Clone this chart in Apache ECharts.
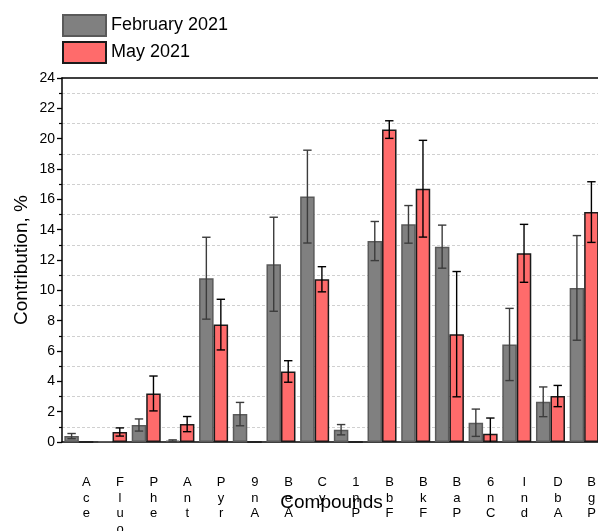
<!DOCTYPE html>
<html>
<head>
<meta charset="utf-8">
<script src="https://cdn.jsdelivr.net/npm/echarts@6/dist/echarts.min.js"></script>
<style>
html,body{margin:0;padding:0;background:#fff;}
#chart{width:598px;height:531px;}
</style>
</head>
<body>
<div id="chart"></div>
<script>
var categories = ['Ace','Fluo','Phe','Ant','Pyr','9nA','BeA','Cy','1nP','BbF','BkF','BaP','6nC','Ind','DbA','BgP'];
var febValues = [0.39, 0.03, 1.12, 0.09, 10.8, 1.84, 11.72, 16.18, 0.81, 13.25, 14.35, 12.88, 1.27, 6.43, 2.65, 10.16];
var febErrors = [0.17, 0, 0.4, 0.05, 2.7, 0.77, 3.1, 3.06, 0.34, 1.29, 1.24, 1.42, 0.9, 2.38, 0.98, 3.45];
var mayValues = [0, 0.66, 3.2, 1.18, 7.74, 0, 4.65, 10.73, 0, 20.6, 16.7, 7.11, 0.55, 12.44, 3.03, 15.16];
var mayErrors = [0, 0.27, 1.15, 0.5, 1.67, 0, 0.71, 0.83, 0, 0.58, 3.19, 4.13, 1.03, 1.91, 0.7, 2.0];
var yTicks = {min: 0, max: 24, interval: 2};

var FONT = "'Liberation Sans', Arial, sans-serif";
var BAR_W = 14.5;

function errData(vals, errs) {
  return vals.map(function (v, i) { return [i, v, errs[i]]; });
}

function makeErrorRender(side, color) {
  return function (params, api) {
    var idx = api.value(0), val = api.value(1), err = api.value(2);
    if (!err) return null;
    var hi = val + err, lo = Math.max(0, val - err);
    var pHi = api.coord([idx, hi]);
    var pLo = api.coord([idx, lo]);
    var x = pHi[0] + side * BAR_W / 2;
    var cap = 4.2;
    var children = [
      {type: 'line', shape: {x1: x, y1: pHi[1], x2: x, y2: pLo[1]}, style: {stroke: color, lineWidth: 1.4}},
      {type: 'line', shape: {x1: x - cap, y1: pHi[1], x2: x + cap, y2: pHi[1]}, style: {stroke: color, lineWidth: 1.4}}
    ];
    if (val - err > 0) {
      children.push({type: 'line', shape: {x1: x - cap, y1: pLo[1], x2: x + cap, y2: pLo[1]}, style: {stroke: color, lineWidth: 1.4}});
    }
    return {type: 'group', children: children};
  };
}

var chart = echarts.init(document.getElementById('chart'), null, {renderer: 'canvas'});
chart.setOption({
  animation: false,
  textStyle: {fontFamily: FONT, color: '#000'},
  legend: {
    orient: 'vertical',
    left: 62,
    top: 14,
    padding: 0,
    itemWidth: 43,
    itemHeight: 21,
    itemGap: 4,
    icon: 'rect',
    data: ['February 2021', 'May 2021'],
    textStyle: {fontFamily: FONT, fontSize: 18, color: '#000'}
  },
  grid: {left: 62, top: 78, width: 539, bottom: 89, containLabel: false, outerBoundsMode: 'none'},
  xAxis: [{
    type: 'category',
    data: categories,
    boundaryGap: true,
    name: 'Compounds',
    nameLocation: 'middle',
    nameGap: 51,
    nameMoveOverlap: false,
    nameTextStyle: {fontFamily: FONT, fontSize: 19, color: '#000'},
    axisLine: {lineStyle: {color: '#000', width: 1.5}},
    axisTick: {alignWithLabel: true, length: 8, lineStyle: {color: '#000', width: 1.5}},
    axisLabel: {
      interval: 0,
      margin: 33,
      fontFamily: FONT,
      fontSize: 13,
      lineHeight: 15.5,
      color: '#000',
      padding: [0, 0, 0, 15],
      formatter: function (v) { return v.split('').join('\n'); }
    },
    splitLine: {show: false}
  }, {
    type: 'category',
    data: categories,
    position: 'top',
    axisLine: {lineStyle: {color: '#000', width: 1.5}},
    axisTick: {show: false},
    axisLabel: {show: false},
    splitLine: {show: false}
  }],
  yAxis: {
    type: 'value',
    min: yTicks.min,
    max: yTicks.max,
    interval: yTicks.interval,
    name: 'Contribution, %',
    nameLocation: 'middle',
    nameRotate: 90,
    nameGap: 31,
    nameMoveOverlap: false,
    nameTextStyle: {fontFamily: FONT, fontSize: 19, color: '#000'},
    axisLine: {show: true, lineStyle: {color: '#000', width: 1.5}},
    axisTick: {show: true, length: 5, lineStyle: {color: '#000', width: 1.3}},
    minorTick: {show: true, splitNumber: 2, length: 3, lineStyle: {color: '#000', width: 1.2}},
    axisLabel: {fontFamily: FONT, fontSize: 14, color: '#000', margin: 7},
    splitLine: {show: false},
    minorSplitLine: {show: true, lineStyle: {color: '#d0d0d0', type: [3, 2], width: 1}}
  },
  series: [{
    name: 'February 2021',
    type: 'bar',
    data: febValues,
    barWidth: BAR_W,
    barGap: '0%',
    itemStyle: {color: '#808080', borderColor: '#5a5a5a', borderWidth: 1.5}
  }, {
    name: 'May 2021',
    type: 'bar',
    data: mayValues,
    barWidth: BAR_W,
    barGap: '0%',
    itemStyle: {color: '#ff6b6b', borderColor: '#1a1a1a', borderWidth: 1.5}
  }, {
    name: 'febErr',
    type: 'custom',
    data: errData(febValues, febErrors),
    renderItem: makeErrorRender(-1, '#3c3c3c'),
    encode: {x: 0, y: 1},
    z: 5
  }, {
    name: 'mayErr',
    type: 'custom',
    data: errData(mayValues, mayErrors),
    renderItem: makeErrorRender(1, '#000'),
    encode: {x: 0, y: 1},
    z: 5
  }]
});
</script>
</body>
</html>
